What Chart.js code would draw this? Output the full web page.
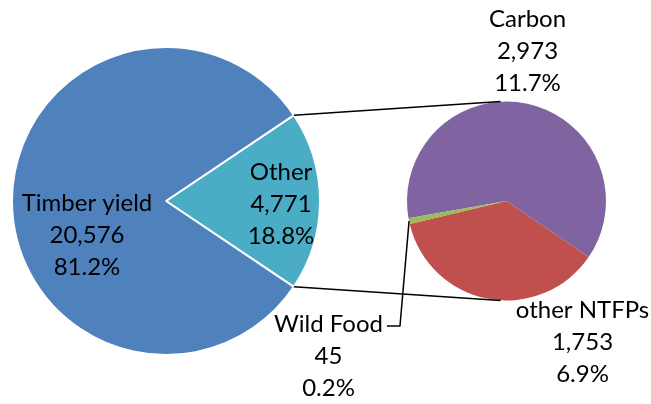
<!DOCTYPE html>
<html>
<head>
<meta charset="utf-8">
<script src="https://cdn.jsdelivr.net/npm/chart.js@4.4.1/dist/chart.umd.min.js"></script>
<style>
html, body { margin: 0; padding: 0; background: #fff; }
#wrap { position: relative; width: 651px; height: 404px; }
#wrap canvas { position: absolute; left: 0; top: 0; }
</style>
</head>
<body>
<div id="wrap">
    <canvas id="mainPie" width="651" height="404"></canvas>
    <canvas id="subPie" width="651" height="404"></canvas>
</div>
<script>
// main pie: "Other" is split out into the second pie
const mainLabels = ['Other', 'Timber yield'];
const mainValues = [4771, 20576];
const mainColors = ['#4BACC6', '#4F81BD'];

const subLabels = ['Carbon', 'other NTFPs', 'Wild Food'];
const subValues = [2973, 1753, 45];
const subColors = ['#8064A2', '#C0504D', '#9BBB59'];

const grandTotal = mainValues.reduce((a, b) => a + b, 0);
const labelFont = '24px Lato';
const lineHeight = 32;

// slice labels: name / value / share of grand total
const sliceLabelPlugin = {
    id: 'sliceLabels',
    afterDraw(chart, args, opts) {
        const ctx = chart.ctx;
        const meta = chart.getDatasetMeta(0);
        const values = chart.data.datasets[0].data;
        ctx.save();
        ctx.font = labelFont;
        ctx.fillStyle = '#000';
        ctx.textAlign = 'center';
        ctx.textBaseline = 'middle';
        meta.data.forEach((arc, i) => {
            const off = opts.offsets[i];
            const x = arc.x + off[0];
            const y = arc.y + off[1];
            const lines = [
                chart.data.labels[i],
                values[i].toLocaleString('en-US'),
                (values[i] / grandTotal * 100).toFixed(1) + '%'
            ];
            lines.forEach((t, k) => ctx.fillText(t, x, y + (k - 1) * lineHeight));

            if (opts.leader === i) {
                const w = ctx.measureText(lines[0]).width;
                const y0 = y - lineHeight + 2;
                const x0 = x + w / 2 + 4;
                const mid = (arc.startAngle + arc.endAngle) / 2;
                ctx.strokeStyle = '#000';
                ctx.lineWidth = 1.5;
                ctx.beginPath();
                ctx.moveTo(x0, y0);
                ctx.lineTo(x0 + 13, y0);
                ctx.lineTo(arc.x + Math.cos(mid) * arc.outerRadius, arc.y + Math.sin(mid) * arc.outerRadius);
                ctx.stroke();
            }
        });
        ctx.restore();
    }
};

const mainChart = new Chart(document.getElementById('mainPie').getContext('2d'), {
    type: 'pie',
    data: {
        labels: mainLabels,
        datasets: [{
            data: mainValues,
            backgroundColor: mainColors,
            borderColor: '#fff',
            borderWidth: 2
        }]
    },
    options: {
        responsive: false,
        animation: false,
        rotation: 90 - (mainValues[0] / grandTotal) * 180,
        layout: { padding: { left: 11, right: 330, top: 46, bottom: 48 } },
        plugins: {
            legend: { display: false },
            tooltip: { enabled: false },
            sliceLabels: { offsets: [[115, 3], [-79, 34]] }
        }
    },
    plugins: [sliceLabelPlugin]
});

// lines joining the "Other" wedge to the second pie
const connectorPlugin = {
    id: 'connectors',
    afterDraw(chart) {
        const other = mainChart.getDatasetMeta(0).data[0];
        const sub = chart.getDatasetMeta(0).data[0];
        const ctx = chart.ctx;
        const R = other.outerRadius;
        ctx.save();
        ctx.strokeStyle = '#000';
        ctx.lineWidth = 1.5;
        ctx.beginPath();
        ctx.moveTo(other.x + Math.cos(other.startAngle) * R, other.y + Math.sin(other.startAngle) * R);
        ctx.lineTo(sub.x - 6, sub.y - sub.outerRadius);
        ctx.moveTo(other.x + Math.cos(other.endAngle) * R, other.y + Math.sin(other.endAngle) * R);
        ctx.lineTo(sub.x - 6, sub.y + sub.outerRadius);
        ctx.stroke();
        ctx.restore();
    }
};

const subChart = new Chart(document.getElementById('subPie').getContext('2d'), {
    type: 'pie',
    data: {
        labels: subLabels,
        datasets: [{
            data: subValues,
            backgroundColor: subColors,
            borderWidth: 0
        }]
    },
    options: {
        responsive: false,
        animation: false,
        rotation: 260,
        layout: { padding: { left: 407, right: 45, top: 101, bottom: 103 } },
        plugins: {
            legend: { display: false },
            tooltip: { enabled: false },
            sliceLabels: { offsets: [[21, -150], [76, 141], [-178, 155]], leader: 2 }
        }
    },
    plugins: [connectorPlugin, sliceLabelPlugin]
});
</script>
</body>
</html>
